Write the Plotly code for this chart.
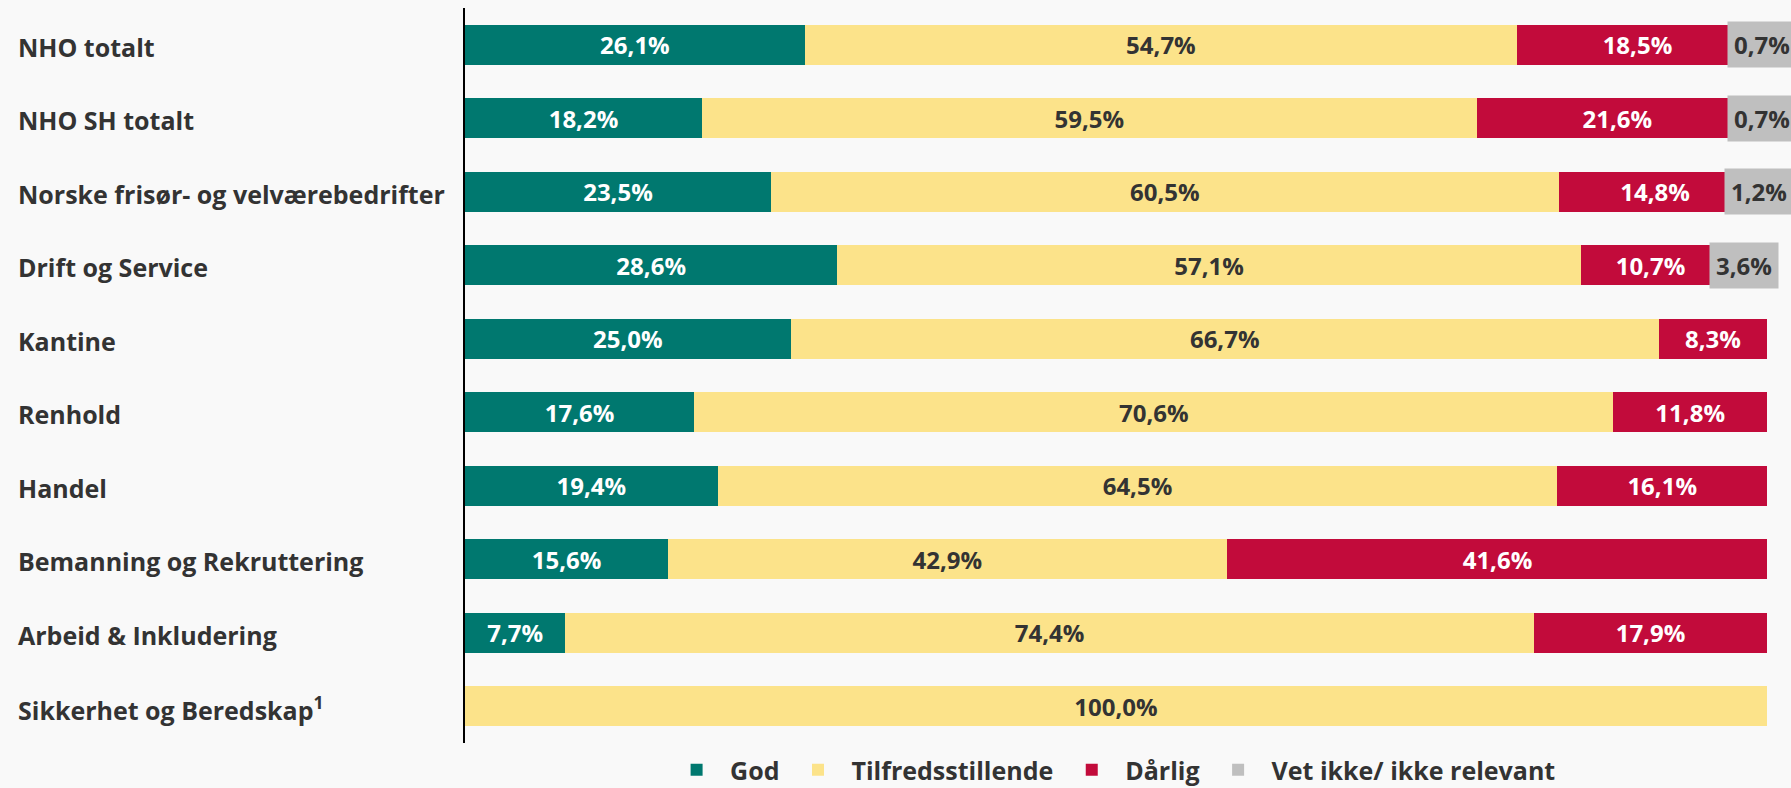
import plotly.graph_objects as go

categories = [
    "NHO totalt",
    "NHO SH totalt",
    "Norske frisør- og velværebedrifter",
    "Drift og Service",
    "Kantine",
    "Renhold",
    "Handel",
    "Bemanning og Rekruttering",
    "Arbeid & Inkludering",
    "Sikkerhet og Beredskap<sup>1</sup>",
]
god = [26.1, 18.2, 23.5, 28.6, 25.0, 17.6, 19.4, 15.6, 7.7, 0.0]
tilfreds = [54.7, 59.5, 60.5, 57.1, 66.7, 70.6, 64.5, 42.9, 74.4, 100.0]
darlig = [18.5, 21.6, 14.8, 10.7, 8.3, 11.8, 16.1, 41.6, 17.9, 0.0]
vet_ikke = [0.7, 0.7, 1.2, 3.6, 0.0, 0.0, 0.0, 0.0, 0.0, 0.0]

series_names = ["God", "Tilfredsstillende", "Dårlig", "Vet ikke/ ikke relevant"]
colors = ["#00786F", "#FCE38A", "#C20B3B", "#BFBFBF"]
text_colors = ["#FFFFFF", "#333333", "#FFFFFF", "#333333"]

FONT = "Open Sans"
W, H = 1791, 788
L, R, T, B = 465, 24, 8, 45


def fmt(v):
    return f"{v:.1f}".replace(".", ",") + "%"


fig = go.Figure()
all_series = [god, tilfreds, darlig, vet_ikke]
for i, (name, vals) in enumerate(zip(series_names, all_series)):
    show_text = i < 3
    ys = [c for c, v in zip(categories, vals) if v > 0]
    xs = [v for v in vals if v > 0]
    fig.add_trace(go.Bar(
        y=ys,
        x=xs,
        name=name,
        orientation="h",
        marker=dict(color=colors[i], line=dict(width=0)),
        text=[fmt(v) for v in xs] if show_text else None,
        textposition="inside" if show_text else "none",
        insidetextanchor="middle",
        textangle=0,
        textfont=dict(family=FONT, size=24, color=text_colors[i], weight=700),
        hoverinfo="skip",
    ))

annotations = []
plot_w = W - L - R
plot_h = H - T - B
# category labels (left-aligned at the figure's left edge)
for c in categories:
    annotations.append(dict(
        x=(16 - L) / plot_w, xref="paper", xanchor="left",
        y=c, yref="y", yanchor="middle", yshift=-2,
        text=c, showarrow=False,
        font=dict(family=FONT, size=25, color="#333333", weight=700),
    ))
# "Vet ikke" labels with grey background box
for c, g, t, d, v in zip(categories, god, tilfreds, darlig, vet_ikke):
    if v > 0:
        annotations.append(dict(
            x=g + t + d + v / 2, xref="x", xanchor="center",
            y=c, yref="y", yanchor="middle",
            text=fmt(v), showarrow=False,
            bgcolor="#BFBFBF", borderpad=6,
            font=dict(family=FONT, size=24, color="#333333", weight=700),
        ))

fig.update_layout(
    width=W, height=H,
    margin=dict(l=L, r=R, t=T, b=B, autoexpand=False),
    barmode="stack",
    bargap=0.45,
    paper_bgcolor="#F9F9F9",
    plot_bgcolor="#F9F9F9",
    font=dict(family=FONT, color="#333333"),
    xaxis=dict(range=[0, 100], visible=False, fixedrange=True),
    yaxis=dict(
        categoryorder="array", categoryarray=categories,
        range=[len(categories) - 0.5, -0.5],
        showticklabels=False, ticks="",
        showgrid=False, zeroline=False,
        showline=True, linecolor="#000000", linewidth=2,
        fixedrange=True,
    ),
    legend=dict(
        orientation="h", x=0.497, xanchor="center",
        y=-27 / plot_h, yanchor="middle",
        traceorder="normal",
        font=dict(family=FONT, size=25, color="#333333", weight=700),
        itemwidth=57,
        bgcolor="rgba(0,0,0,0)",
    ),
    annotations=annotations,
    showlegend=True,
)

fig.write_html(
    "out.html",
    config={"displayModeBar": False},
    post_script="document.body.style.margin='0';document.body.style.background='#F9F9F9';",
)
